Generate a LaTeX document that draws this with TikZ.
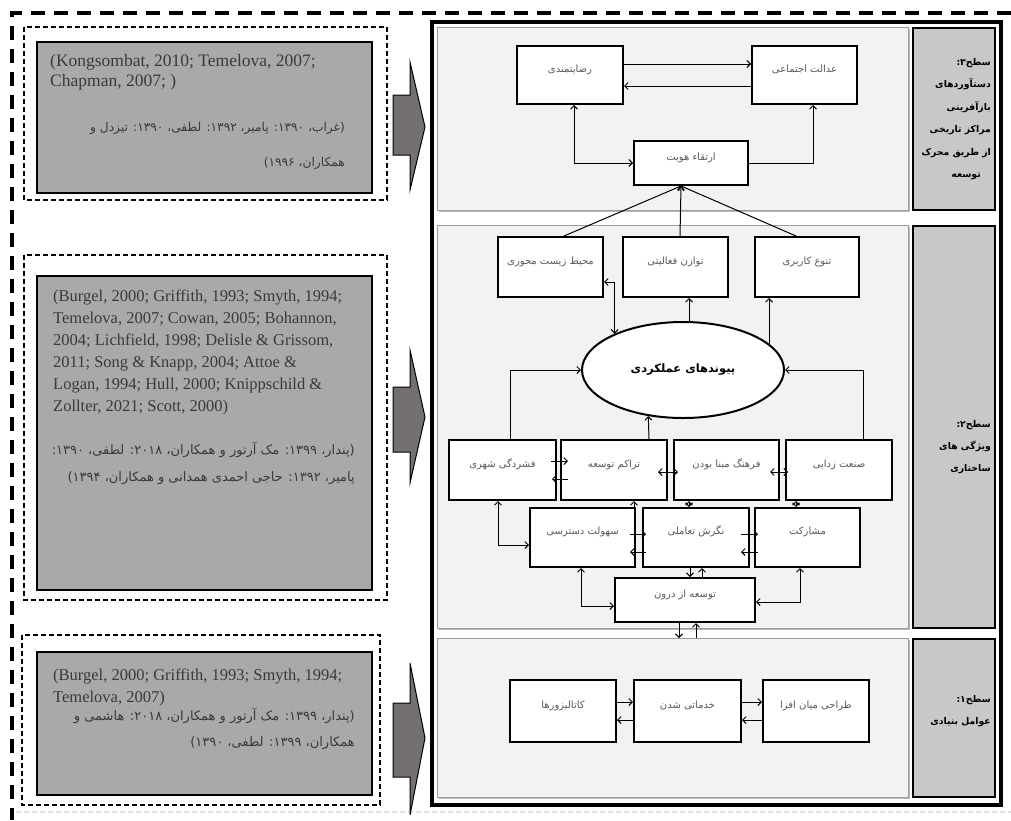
\documentclass[tikz,border=0pt]{standalone}
\usepackage{fontspec}
\setmainfont{Liberation Serif}
\newfontfamily\fa[Script=Arabic]{DejaVu Sans}
\TeXXeTstate=1
\usetikzlibrary{arrows.meta,shapes.geometric}
\definecolor{panelfill}{HTML}{F2F2F2}
\definecolor{panelline}{HTML}{9C9C9C}
\definecolor{tagfill}{HTML}{C8C8C8}
\definecolor{reffill}{HTML}{AAA8A8}
\definecolor{blkfill}{HTML}{757070}
\definecolor{reftext}{HTML}{3A3A3A}
\newcommand{\fatxt}[1]{\beginR#1\endR}
\begin{document}
\begin{tikzpicture}[x=1pt,y=-1pt,
  >={Straight Barb[length=3.5pt,width=7pt]},
  con/.style={line width=1pt},
  box/.style={draw,line width=2pt,fill=white,minimum width=106pt,minimum height=60pt,
    text height=8pt,text depth=14pt,inner sep=0pt,font=\fa\fontsize{10}{12}\selectfont,text=black!65},
  panel/.style={draw=panelline,fill=panelfill,line width=1pt},
  tag/.style={draw,line width=2pt,fill=tagfill},
  tagtxt/.style={anchor=east,align=right,inner sep=0pt,font=\fa\bfseries\fontsize{9.3}{22.4}\selectfont},
  refbox/.style={draw,line width=1.5pt,fill=reffill},
  reffr/.style={draw,line width=1.5pt,dash pattern=on 5pt off 3pt},
  entxt/.style={anchor=west,align=left,inner sep=0pt,text=reftext,font=\fontsize{16.5}{22}\selectfont},
  persref/.style={anchor=east,align=right,inner sep=0pt,text=reftext,font=\fa\fontsize{13}{27}\selectfont},
  blk/.style={draw,fill=blkfill,line width=1pt},
]
\useasboundingbox (0,0) rectangle (1011,820);
\draw[line width=3.5pt,dash pattern=on 14pt off 9pt] (1011,13) -- (12,13) -- (12,820);
\draw[gray!25,line width=1.5pt,dash pattern=on 5pt off 3pt] (16,812) -- (1011,812);

\draw[reffr] (24,27) rectangle (387,200);
\draw[refbox] (37,42) rectangle (372,193);
\draw[reffr] (24,255) rectangle (387,600);
\draw[refbox] (37,276) rectangle (372,590);
\draw[reffr] (22,635) rectangle (380,805);
\draw[refbox] (37,652) rectangle (372,795);

\node[entxt,font=\fontsize{17.5}{20}\selectfont] (en1) at (50,72) {(Kongsombat, 2010; Temelova, 2007;\\Chapman, 2007; )};
\node[persref,font=\fa\fontsize{12.2}{35}\selectfont] (fa1) at (345,145.5) {\fatxt{(غراب، ۱۳۹۰: پامیر، ۱۳۹۲: لطفی، ۱۳۹۰: تیزدل و}\\\fatxt{همکاران، ۱۹۹۶)}};
\node[entxt] (en2) at (53,352) {(Burgel, 2000; Griffith, 1993; Smyth, 1994;\\Temelova, 2007; Cowan, 2005; Bohannon,\\2004; Lichfield, 1998; Delisle \& Grissom,\\2011; Song \& Knapp, 2004; Attoe \&\\Logan, 1994; Hull, 2000; Knippschild \&\\Zollter, 2021; Scott, 2000)};
\node[persref] (fa2) at (355,463.5) {\fatxt{(پندار، ۱۳۹۹: مک آرتور و همکاران، ۲۰۱۸: لطفی، ۱۳۹۰:}\\\fatxt{پامیر، ۱۳۹۲: حاجی احمدی همدانی و همکاران، ۱۳۹۴)}};
\node[entxt] (en3) at (53,687) {(Burgel, 2000; Griffith, 1993; Smyth, 1994;\\Temelova, 2007)};
\node[persref,font=\fa\fontsize{13}{26}\selectfont] (fa3) at (355,729) {\fatxt{(پندار، ۱۳۹۹: مک آرتور و همکاران، ۲۰۱۸: هاشمی و}\\\fatxt{همکاران، ۱۳۹۹: لطفی، ۱۳۹۰)}};

\draw[blk] (393,95) -- (410,95) -- (410,62) -- (425,127) -- (410,190) -- (410,155) -- (393,155) -- cycle;
\draw[blk] (393,387) -- (410,387) -- (410,350) -- (425,417) -- (410,483) -- (410,452) -- (393,452) -- cycle;
\draw[blk] (393,703) -- (410,703) -- (410,663) -- (425,738) -- (410,815) -- (410,777) -- (393,777) -- cycle;

\draw[line width=3.5pt] (432,22) rectangle (1001,805);
\draw[gray!55,line width=1.5pt] (439,211.5) -- (909.5,211.5) -- (909.5,29);
\draw[gray!55,line width=1.5pt] (439,629.5) -- (909.5,629.5) -- (909.5,227);
\draw[gray!55,line width=1.5pt] (439,798.5) -- (909.5,798.5) -- (909.5,640);
\draw[panel] (437,27) rectangle (908,210);
\draw[panel] (437,225) rectangle (908,628);
\draw[panel] (437,638) rectangle (908,797);
\draw[tag] (913,28) rectangle (995,210);
\draw[tag] (913,226) rectangle (995,628);
\draw[tag] (913,639) rectangle (995,797);
\coordinate (lev1top) at (437,638);

\node[tagtxt] (t3) at (991,119) {\fatxt{سطح۳:}\\\fatxt{دستآوردهای}\\\fatxt{بازآفرینی}\\\fatxt{مراکز تاریخی}\\\fatxt{از طریق محرک}\\\fatxt{توسعه}\hspace*{10pt}};
\node[tagtxt] (t2) at (991,447) {\fatxt{سطح۲:}\\\fatxt{ویژگی های}\\\fatxt{ساختاری}};
\node[tagtxt] (t1) at (991,711) {\fatxt{سطح۱:}\\\fatxt{عوامل بنیادی}};

\node[box,minimum height=58pt] (s1) at (570,75) {\fatxt{رضایتمندی}};
\node[box,minimum height=58pt,minimum width=105pt] (s2) at (804.5,75) {\fatxt{عدالت اجتماعی}};
\node[box,minimum width=114pt,minimum height=44pt] (s3) at (691,163) {\fatxt{ارتقاء هویت}};

\node[box,minimum width=105pt] (k1) at (550.5,267) {\fatxt{محیط زیست محوری}};
\node[box,minimum width=105pt] (k2) at (675.5,267) {\fatxt{توازن فعالیتی}};
\node[box,minimum width=104pt] (k3) at (807,267) {\fatxt{تنوع کاربری}};
\node[ellipse,draw,line width=2pt,fill=white,minimum width=202pt,minimum height=96pt,inner sep=0pt,
  font=\fa\bfseries\fontsize{11.5}{14}\selectfont] (pf) at (683,370) {\fatxt{پیوندهای عملکردی}};

\node[box,minimum width=107pt] (r1) at (502.5,470) {\fatxt{فشردگی شهری}};
\node[box] (r2) at (614,470) {\fatxt{تراکم توسعه}};
\node[box,minimum width=105pt] (r3) at (726.5,470) {\fatxt{فرهنگ مبنا بودن}};
\node[box] (r4) at (839,470) {\fatxt{صنعت زدایی}};
\node[box,minimum width=105pt,minimum height=59pt] (q1) at (582.5,537.5) {\fatxt{سهولت دسترسی}};
\node[box,minimum height=59pt] (q2) at (696,537.5) {\fatxt{نگرش تعاملی}};
\node[box,minimum width=105pt,minimum height=59pt] (q3) at (807.5,537.5) {\fatxt{مشارکت}};
\node[box,minimum width=140pt,minimum height=44pt] (td) at (685,600) {\fatxt{توسعه از درون}};

\node[box,minimum height=62pt] (f1) at (563,711) {\fatxt{کاتالیزورها}};
\node[box,minimum width=107pt,minimum height=62pt] (f2) at (687.5,711) {\fatxt{خدماتی شدن}};
\node[box,minimum height=62pt] (f3) at (816,711) {\fatxt{طراحی میان افزا}};

\draw[con,->] ([yshift=11pt]s1.east) -- ([yshift=11pt]s2.west);
\draw[con,->] ([yshift=-11pt]s2.west) -- ([yshift=-11pt]s1.east);
\draw[con,<->] (s3.west) -| ([xshift=4pt]s1.south);
\draw[con,->] (s3.east) -| ([xshift=8.5pt]s2.south);
\draw[con,->] ([xshift=13.5pt]k1.north) -- ([xshift=-10pt]s3.south);
\draw[con,->] ([xshift=4.5pt]k2.north) -- ([xshift=-10pt]s3.south);
\draw[con,->] ([xshift=-11pt]k3.north) -- ([xshift=-10pt]s3.south);

\draw[con,<->] ([yshift=-15pt]k1.east) -| (pf.152);
\draw[con,->] ([xshift=6pt]pf.north) -- ([xshift=13.5pt]k2.south);
\draw[con,->] (pf.17) -- (pf.17 |- k3.south);
\draw[con,->] ([xshift=7.5pt]r1.north) |- (pf.west);
\draw[con,->] ([xshift=24pt]r4.north) |- (pf.east);
\draw[con,->] ([xshift=35pt]r2.north) -- (pf.233);

\draw[con,->] ([xshift=-6pt,yshift=9pt]r1.east) -- ([xshift=8pt,yshift=9pt]r2.west);
\draw[con,->] ([xshift=8pt,yshift=-9pt]r2.west) -- ([xshift=-5pt,yshift=-9pt]r1.east);
\draw[con,<->] ([xshift=-10pt,yshift=-2pt]r2.east) -- ([xshift=5pt,yshift=-2pt]r3.west);
\draw[con,<->] ([xshift=-10pt,yshift=-2pt]r3.east) -- ([xshift=3pt,yshift=-2pt]r4.west);
\draw[con,<->] ([xshift=-4.5pt]r1.south) |- ([yshift=-7.5pt]q1.west);
\draw[con,->] ([xshift=51.5pt]q1.north) -- ([xshift=20pt]r2.south);
\draw[con,<->] ([xshift=-37.5pt]r3.south) -- ([xshift=-7pt]q2.north);
\draw[con,<->] ([xshift=-43pt]r4.south) -- ([xshift=-11.5pt]q3.north);

\draw[con,->] ([xshift=-6pt,yshift=3.5pt]q1.east) -- ([xshift=4pt,yshift=3.5pt]q2.west);
\draw[con,->] ([xshift=4pt,yshift=-14.5pt]q2.west) -- ([xshift=-6pt,yshift=-14.5pt]q1.east);
\draw[con,->] ([xshift=-9pt,yshift=3.5pt]q2.east) -- ([xshift=4pt,yshift=3.5pt]q3.west);
\draw[con,->] ([xshift=4pt,yshift=-14.5pt]q3.west) -- ([xshift=-9pt,yshift=-14.5pt]q2.east);
\draw[con,<->] ([xshift=-1.5pt]q1.south) |- ([yshift=-6pt]td.west);
\draw[con,<->] ([xshift=-7.5pt]q3.south) |- ([yshift=-2pt]td.east);
\draw[con,->] ([xshift=-6pt]q2.south) -- ([xshift=5pt]td.north);
\draw[con,->] ([xshift=17pt]td.north) -- ([xshift=6pt]q2.south);
\draw[con,->] ([xshift=-6pt]td.south) -- ([xshift=-6pt]td.south |- lev1top);
\draw[con,->] ([xshift=11pt]td.south |- lev1top) -- ([xshift=11pt]td.south);

\draw[con,->] ([yshift=9pt]f1.east) -- ([yshift=9pt]f2.west);
\draw[con,->] ([yshift=-9pt]f2.west) -- ([yshift=-9pt]f1.east);
\draw[con,->] ([yshift=9pt]f2.east) -- ([yshift=9pt]f3.west);
\draw[con,->] ([yshift=-9pt]f3.west) -- ([yshift=-9pt]f2.east);
\end{tikzpicture}
\end{document}
